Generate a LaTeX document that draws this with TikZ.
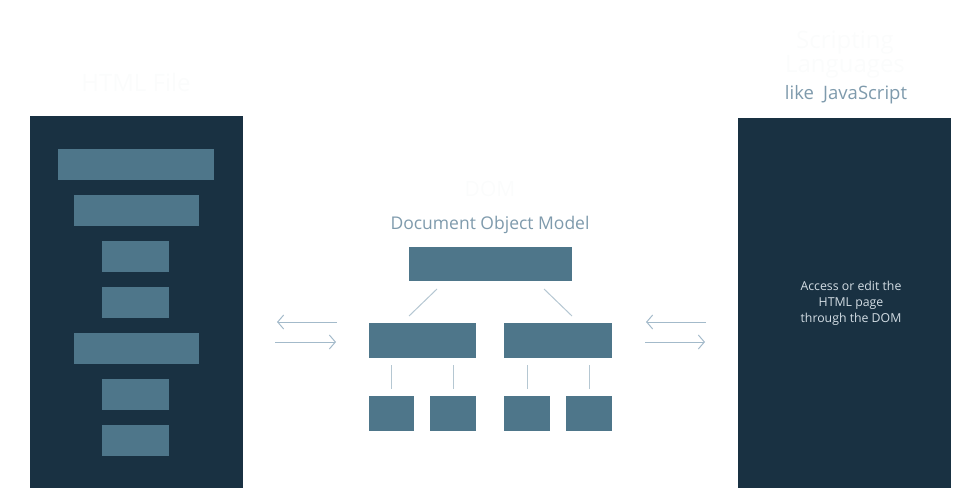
\documentclass[tikz,border=0pt]{standalone}
\usepackage{fontspec}
\setmainfont{Open Sans}
\usetikzlibrary{arrows.meta}
\definecolor{panel}{HTML}{193142}
\definecolor{bar}{HTML}{4E768A}
\definecolor{title}{HTML}{7E9AAC}
\definecolor{link}{HTML}{B5C7D2}
\definecolor{arrowc}{HTML}{A3BACA}
\definecolor{paneltext}{HTML}{D3DDE4}
\definecolor{ghost}{HTML}{FBFCFC}
\begin{document}
\begin{tikzpicture}[x=1pt,y=-1pt,
  panelbox/.style={fill=panel,draw=none,inner sep=0,outer sep=0},
  barbox/.style={fill=bar,draw=none,inner sep=0,outer sep=0},
  linkline/.style={draw=link,line width=1pt},
  arr/.style={draw=arrowc,line width=1pt,-{Straight Barb[length=6pt,width=14pt]}},
  ghosttext/.style={text=ghost,font=\fontsize{24}{28}\selectfont,align=center},
  titletext/.style={text=title,font=\fontsize{17.5}{20}\selectfont}]
\useasboundingbox (0,0) rectangle (980,500);

% HTML file panel
\node[ghosttext] (htmltitle) at (136,83) {HTML File};
\node[panelbox,minimum width=213pt,minimum height=372pt] (html) at (136.5,302) {};
\node[barbox,minimum width=156pt,minimum height=31pt] (h1) at (136,164.5) {};
\node[barbox,minimum width=125pt,minimum height=31pt] (h2) at (136.5,210.5) {};
\node[barbox,minimum width=67pt,minimum height=31pt] (h3) at (135.5,256.5) {};
\node[barbox,minimum width=67pt,minimum height=31pt] (h4) at (135.5,302.5) {};
\node[barbox,minimum width=125pt,minimum height=31pt] (h5) at (136.5,348.5) {};
\node[barbox,minimum width=67pt,minimum height=31pt] (h6) at (135.5,394) {};
\node[barbox,minimum width=67pt,minimum height=31pt] (h7) at (135.5,440) {};

% DOM tree
\node[text=ghost,font=\fontsize{21}{24}\selectfont] (domtitle) at (490,189) {DOM};
\node[titletext] (domsub) at (490,225) {Document Object Model};
\node[barbox,minimum width=163pt,minimum height=34pt] (top) at (490.5,264) {};
\node[barbox,minimum width=107pt,minimum height=35pt] (midL) at (422.5,340.5) {};
\node[barbox,minimum width=108pt,minimum height=35pt] (midR) at (558,340.5) {};
\node[barbox,minimum width=45pt,minimum height=35pt] (bL1) at (391.5,413.5) {};
\node[barbox,minimum width=46pt,minimum height=35pt] (bL2) at (453,413.5) {};
\node[barbox,minimum width=46pt,minimum height=35pt] (bR1) at (527,413.5) {};
\node[barbox,minimum width=46pt,minimum height=35pt] (bR2) at (589,413.5) {};

\draw[linkline] ([shift={(28,8)}]top.south west) -- ([shift={(40,-7)}]midL.north west);
\draw[linkline] ([shift={(-28,8)}]top.south east) -- ([shift={(-40,-7)}]midR.north east);
\foreach \b/\m in {bL1/midL,bL2/midL,bR1/midR,bR2/midR}
  \draw[linkline,shorten <=7pt,shorten >=7pt] (\b.north) -- (\b.north |- \m.south);

% Scripting languages panel
\node[ghosttext] (scripttitle) at (845,55) {Scripting\\[-4pt]Languages};
\node[titletext,font=\fontsize{18.5}{22}\selectfont] (scriptsub) at (846,95) {like\enspace JavaScript};
\node[panelbox,minimum width=213pt,minimum height=370pt] (script) at (844.5,303) {};
\node[text=paneltext,font=\fontsize{12.3}{16}\selectfont,align=center] (scripttext) at (851,303)
  {Access or edit the\\HTML page\\through the DOM};

% Exchange arrows
\coordinate (la) at (337,322);
\coordinate (lb) at (277,322);
\coordinate (lc) at (275,342);
\coordinate (ld) at (336,342);
\draw[arr] (la) -- (lb);
\draw[arr] (lc) -- (ld);
\coordinate (ra) at (706,322);
\coordinate (rb) at (646,322);
\coordinate (rc) at (645,342);
\coordinate (rd) at (705,342);
\draw[arr] (ra) -- (rb);
\draw[arr] (rc) -- (rd);
\end{tikzpicture}
\end{document}
